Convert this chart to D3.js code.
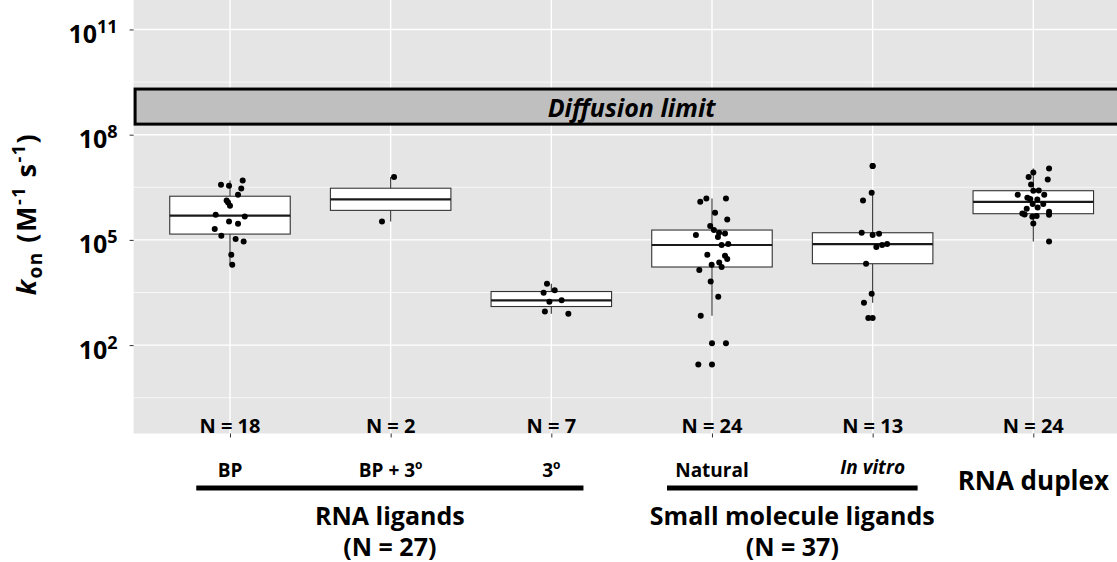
<!DOCTYPE html>
<html lang="en">
<head>
<meta charset="UTF-8">
<title>kon by ligand class</title>
<script src="https://cdn.jsdelivr.net/npm/d3@7"></script>
<style>
  body { margin: 0; background: #fff; }
  text { font-family: "Open Sans", "Noto Sans", sans-serif; font-weight: bold; fill: #000; }
</style>
</head>
<body>
<svg id="chart" width="1117" height="562"></svg>
<script>
// categories, left to right ("o" after "^" is drawn raised)
const categories = ["BP", "BP + 3^o", "3^o", "Natural", "In vitro", "RNA duplex"];
const nLabels = ["N = 18", "N = 2", "N = 7", "N = 24", "N = 13", "N = 24"];

const bpLog = [6.571, 6.543, 6.694, 6.466, 6.286, 6.124, 6.067, 5.973, 5.717, 5.668, 5.526, 5.460, 5.309, 5.118, 5.024, 4.956, 4.577, 4.292];
const bp3Log = [6.79, 5.526];
const tertLog = [3.751, 3.495, 3.561, 3.239, 3.276, 2.962, 2.897];
const naturalLog = [6.087, 6.181, 6.181, 5.774, 5.583, 5.395, 5.281, 5.204, 5.184, 5.138, 5.082, 4.854, 4.882, 4.577, 4.549, 4.455, 4.292, 4.358, 4.227, 4.142, 3.817, 3.381, 2.840, 2.051, 1.444];
const invitroLog = [7.104, 6.343, 6.124, 5.204, 5.138, 5.176, 4.797, 4.854, 4.882, 4.321, 3.467, 3.210, 2.774];
const duplexLog = [7.035, 6.921, 6.790, 6.722, 6.580, 6.400, 6.409, 6.286, 6.286, 6.164, 6.021, 6.021, 5.925, 5.887, 5.754, 5.725, 5.802, 5.717, 5.660, 5.680, 5.469, 4.956, 6.15, 6.20];

// horizontal jitter of each dot, as a fraction of one category step
const bpJitter = [-0.056, -0.006, 0.079, 0.070, 0.050, -0.021, -0.012, 0.000, -0.089, 0.092, -0.006, 0.050, -0.095, -0.054, 0.035, 0.085, 0.008, 0.014];
const bp3Jitter = [0.021, -0.054];
const tertJitter = [-0.027, -0.048, 0.021, -0.012, 0.064, -0.040, 0.106];
const naturalJitter = [-0.073, -0.035, 0.087, 0.019, 0.095, -0.011, 0.012, 0.044, 0.081, -0.100, 0.037, 0.060, 0.101, -0.029, 0.081, 0.095, -0.002, 0.045, 0.060, -0.079, -0.008, 0.039, -0.070, 0.087, -0.085];
const invitroJitter = [0, -0.006, -0.060, -0.068, 0, 0.040, 0.023, 0.059, 0.090, -0.041, -0.006, -0.054, -0.027];
const duplexJitter = [0.098, 0, -0.029, 0.090, -0.014, 0, 0.034, -0.097, 0.068, -0.019, -0.004, 0.062, 0.027, -0.041, -0.068, -0.054, 0.098, 0.098, -0.006, 0.021, 0, 0.098, 0.025, -0.037];

const yTicks = [1e2, 1e5, 1e8, 1e11];
const yTickPowers = ["2", "5", "8", "11"];
const yMinor = [Math.pow(10, 0.5), Math.pow(10, 3.5), Math.pow(10, 6.5), Math.pow(10, 9.5)];

// diffusion limit band (M-1 s-1)
const diffusionBand = [2e8, 2e9];

// bracket groups under the axis: label, count, span in category positions (1-based)
const groupNames = ["RNA ligands", "Small molecule ligands"];
const groupCounts = ["(N = 27)", "(N = 37)"];
const groupSpans = [[0.79, 3.2], [3.72, 5.28]];

const groups = [
    { values: bpLog, jitter: bpJitter },
    { values: bp3Log, jitter: bp3Jitter },
    { values: tertLog, jitter: tertJitter },
    { values: naturalLog, jitter: naturalJitter },
    { values: invitroLog, jitter: invitroJitter },
    { values: duplexLog, jitter: duplexJitter },
];

const panel = { left: 133.6, right: 1129.7, top: 0, bottom: 433.5 };

const svg = d3.select("#chart");

// x: category positions 1..6, ggplot-style 0.6 expansion each side
const x = d3.scaleLinear().domain([0.4, 6.6]).range([panel.left, panel.right]);
const step = x(2) - x(1);
const y = d3.scaleLog().domain([Math.pow(10, -0.52), Math.pow(10, 11.84)]).range([panel.bottom, panel.top]);

// panel background
svg.append("rect")
    .attr("x", panel.left).attr("y", panel.top)
    .attr("width", panel.right - panel.left).attr("height", panel.bottom - panel.top)
    .attr("fill", "#e5e5e5");

// grid
svg.append("g").selectAll("line").data(yMinor).join("line")
    .attr("x1", panel.left).attr("x2", panel.right)
    .attr("y1", d => y(d)).attr("y2", d => y(d))
    .attr("stroke", "#fff").attr("stroke-width", 0.7);
svg.append("g").selectAll("line").data(yTicks).join("line")
    .attr("x1", panel.left).attr("x2", panel.right)
    .attr("y1", d => y(d)).attr("y2", d => y(d))
    .attr("stroke", "#fff").attr("stroke-width", 1.4);
svg.append("g").selectAll("line").data(categories).join("line")
    .attr("x1", (d, i) => x(i + 1)).attr("x2", (d, i) => x(i + 1))
    .attr("y1", panel.top).attr("y2", panel.bottom)
    .attr("stroke", "#fff").attr("stroke-width", 1.4);

// diffusion limit band
svg.append("rect")
    .attr("x", panel.left + 1.5).attr("y", y(diffusionBand[1]))
    .attr("width", panel.right - panel.left).attr("height", y(diffusionBand[0]) - y(diffusionBand[1]))
    .attr("fill", "#bfbfbf").attr("stroke", "#000").attr("stroke-width", 3);
svg.append("text")
    .attr("x", x(3.5)).attr("y", y(Math.sqrt(diffusionBand[0] * diffusionBand[1])))
    .attr("text-anchor", "middle").attr("dominant-baseline", "central")
    .style("font-style", "italic").style("font-size", "25px")
    .text("Diffusion limit");

// boxplot stats, computed the ggplot way on log10 values
function boxStats(vals) {
    const s = vals.slice().sort(d3.ascending);
    const q1 = d3.quantileSorted(s, 0.25);
    const med = d3.quantileSorted(s, 0.5);
    const q3 = d3.quantileSorted(s, 0.75);
    const iqr = q3 - q1;
    const lo = d3.min(s.filter(v => v >= q1 - 1.5 * iqr));
    const hi = d3.max(s.filter(v => v <= q3 + 1.5 * iqr));
    return { q1, med, q3, lo, hi, outliers: s.filter(v => v < lo || v > hi) };
}

const p10 = v => Math.pow(10, v);
const boxW = 0.75 * step;

groups.forEach((grp, i) => {
    const st = boxStats(grp.values);
    const cx = x(i + 1);
    const g = svg.append("g");

    g.append("line")
        .attr("x1", cx).attr("x2", cx).attr("y1", y(p10(st.hi))).attr("y2", y(p10(st.q3)))
        .attr("stroke", "#333").attr("stroke-width", 1.1);
    g.append("line")
        .attr("x1", cx).attr("x2", cx).attr("y1", y(p10(st.q1))).attr("y2", y(p10(st.lo)))
        .attr("stroke", "#333").attr("stroke-width", 1.1);
    g.append("rect")
        .attr("x", cx - boxW / 2).attr("width", boxW)
        .attr("y", y(p10(st.q3))).attr("height", y(p10(st.q1)) - y(p10(st.q3)))
        .attr("fill", "#fff").attr("stroke", "#333").attr("stroke-width", 1.1);
    g.append("line")
        .attr("x1", cx - boxW / 2).attr("x2", cx + boxW / 2)
        .attr("y1", y(p10(st.med))).attr("y2", y(p10(st.med)))
        .attr("stroke", "#1a1a1a").attr("stroke-width", 2.2);

    // outliers at the box centre
    g.selectAll(".out").data(st.outliers).join("circle")
        .attr("cx", cx).attr("cy", d => y(p10(d))).attr("r", 3).attr("fill", "#000");

    // jittered points
    g.selectAll(".pt").data(grp.values).join("circle")
        .attr("cx", (d, j) => cx + grp.jitter[j] * step)
        .attr("cy", d => y(p10(d)))
        .attr("r", 3).attr("fill", "#000");
});

// N labels inside the panel
svg.append("g").selectAll("text").data(nLabels).join("text")
    .attr("x", (d, i) => x(i + 1)).attr("y", 433)
    .attr("text-anchor", "middle")
    .style("font-size", "20px")
    .text(d => d);

// y axis
const yAxis = svg.append("g")
    .attr("transform", `translate(${panel.left},0)`)
    .call(d3.axisLeft(y).tickValues(yTicks).tickSize(4).tickFormat(""));
yAxis.select(".domain").remove();
yAxis.selectAll(".tick line").attr("stroke", "#333");
yAxis.selectAll(".tick").each(function (d, i) {
    const t = d3.select(this).append("text")
        .attr("x", -16).attr("y", 13)
        .attr("text-anchor", "end")
        .style("font-size", "25px");
    t.append("tspan").text("10");
    t.append("tspan").attr("dy", -10).style("font-size", "18px").text(yTickPowers[i]);
});

// x axis ticks
const xAxis = svg.append("g")
    .attr("transform", `translate(0,${panel.bottom})`)
    .call(d3.axisBottom(x).tickValues([1, 2, 3, 4, 5, 6]).tickSize(4).tickFormat(""));
xAxis.select(".domain").remove();
xAxis.selectAll(".tick line").attr("stroke", "#333");

// y title
const title = svg.append("text")
    .attr("transform", "translate(36,214) rotate(-90)")
    .attr("text-anchor", "middle")
    .style("font-size", "27px")
    .style("letter-spacing", "1.5px");
title.append("tspan").style("font-style", "italic").text("k");
title.append("tspan").attr("dy", 6).style("font-size", "19px").text("on");
title.append("tspan").attr("dy", -6).text(" (M");
title.append("tspan").attr("dy", -11).style("font-size", "18px").text("-1");
title.append("tspan").attr("dy", 11).text(" s");
title.append("tspan").attr("dy", -11).style("font-size", "18px").text("-1");
title.append("tspan").attr("dy", 11).text(")");

// category labels below the axis
categories.forEach((c, i) => {
    const duplex = i === categories.length - 1;
    const t = svg.append("text")
        .attr("x", x(i + 1))
        .attr("y", duplex ? 490 : (c === "In vitro" ? 474 : 477))
        .attr("text-anchor", "middle")
        .style("font-size", duplex ? "26px" : "19px")
        .style("font-style", c === "In vitro" ? "italic" : "normal");
    const parts = c.split("^");
    t.append("tspan").text(parts[0]);
    if (parts[1]) t.append("tspan").attr("dy", -8).style("font-size", "12px").text(parts[1]);
});

// group brackets
groupNames.forEach((name, i) => {
    const [a, b] = groupSpans[i];
    const mid = (x(a) + x(b)) / 2;
    svg.append("line")
        .attr("x1", x(a)).attr("x2", x(b)).attr("y1", 488).attr("y2", 488)
        .attr("stroke", "#000").attr("stroke-width", 5);
    svg.append("text")
        .attr("x", mid).attr("y", 525)
        .attr("text-anchor", "middle").style("font-size", "25px")
        .text(name);
    svg.append("text")
        .attr("x", mid).attr("y", 556)
        .attr("text-anchor", "middle").style("font-size", "25px")
        .text(groupCounts[i]);
});
</script>
</body>
</html>
